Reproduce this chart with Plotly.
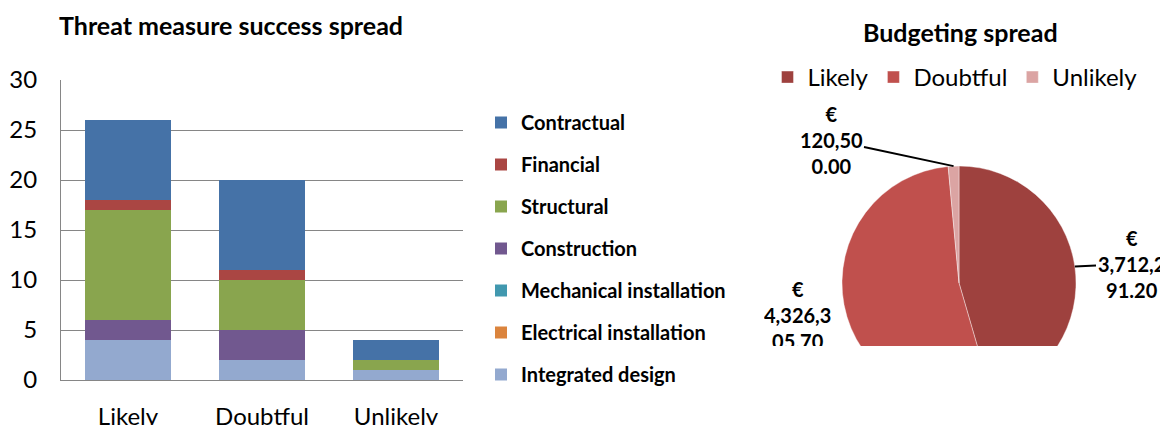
import plotly.graph_objects as go
import math

# ---------------- data ----------------
categories = ["Likely", "Doubtful", "Unlikely"]
integrated_design = [4, 2, 1]
electrical_installation = [0, 0, 0]
mechanical_installation = [0, 0, 0]
construction = [2, 3, 0]
structural = [11, 5, 1]
financial = [1, 1, 0]
contractual = [8, 9, 2]

series_names = ["Integrated design", "Electrical installation", "Mechanical installation",
                "Construction", "Structural", "Financial", "Contractual"]
series_values = [integrated_design, electrical_installation, mechanical_installation,
                 construction, structural, financial, contractual]
series_colors = ["#93A9CF", "#DB843D", "#4198AF", "#71588F", "#89A54E", "#AA4643", "#4572A7"]

budget_labels = ["Likely", "Doubtful", "Unlikely"]
budget_values = [3712291.20, 4326305.70, 120500.00]
budget_colors = ["#9E413E", "#C0504D", "#DBA4A3"]

# page body has an 8px default margin; size the figure to fit the window
OFF = 8
W, H = 1168 - OFF, 425 - OFF
FONT = "Lato"


def px_x(x):
    return (x - OFF) / W


def px_y(y):
    return 1 - (y - OFF) / H


def wrap_money(v, limit=6.0):
    s = f"{v:,.2f}"
    lines, cur, w = [], "", 0.0
    for ch in s:
        cw = 0.5 if ch in ",." else 1.0
        if w + cw > limit:
            lines.append(cur)
            cur, w = "", 0.0
        cur += ch
        w += cw
    lines.append(cur)
    return "€<br>" + "<br>".join(lines)


fig = go.Figure()

n = len(series_names)
for i, (name, vals, col) in enumerate(zip(series_names, series_values, series_colors)):
    fig.add_trace(go.Bar(
        x=categories, y=vals, name=name, marker_color=col,
        marker_line_width=0, legendgroup=name, legend="legend",
        legendrank=n - i,
    ))

# pie geometry (screen pixels)
pie_cx, pie_cy, pie_r = 959, 283, 117
fig.add_trace(go.Pie(
    labels=budget_labels, values=budget_values, sort=False, direction="clockwise",
    rotation=0, marker=dict(colors=budget_colors, line=dict(color="white", width=0.4)),
    textinfo="none", legend="legend2",
    domain=dict(x=[px_x(pie_cx - pie_r), px_x(pie_cx + pie_r)],
                y=[px_y(pie_cy + pie_r), px_y(pie_cy - pie_r)]),
))

# clip pie bottom
fig.add_shape(type="rect", xref="paper", yref="paper", x0=px_x(760), x1=1.0,
              y0=-0.01, y1=px_y(346), fillcolor="white", line_width=0, layer="above")

annotations = [
    dict(text="<b>Threat measure success spread</b>", x=px_x(57), y=px_y(25),
         xref="paper", yref="paper",
         xanchor="left", yanchor="middle", showarrow=False,
         font=dict(family=FONT, size=25, color="black")),
    dict(text="<b>Budgeting spread</b>", x=px_x(960), y=px_y(32),
         xref="paper", yref="paper",
         xanchor="center", yanchor="middle", showarrow=False,
         font=dict(family=FONT, size=25, color="black")),
]

# pie data labels
total = sum(budget_values)
cum = 0.0
mids = []
for v in budget_values:
    mids.append((cum + v / 2) / total * 2 * math.pi)
    cum += v

label_centers = {"Likely": (1131, 264), "Unlikely": (831, 140)}
for lab, v, m in zip(budget_labels, budget_values, mids):
    tx = pie_cx + pie_r * math.sin(m)
    ty = pie_cy - pie_r * math.cos(m)
    txt = "<b>" + wrap_money(v) + "</b>"
    if lab in label_centers:
        cx, cy = label_centers[lab]
        annotations.append(dict(
            text=txt, x=px_x(tx), y=px_y(ty), xref="paper", yref="paper",
            showarrow=True, arrowhead=0, arrowwidth=2, arrowcolor="black",
            ax=cx - tx, ay=cy - ty, align="center",
            font=dict(family=FONT, size=20, color="black"),
        ))
    else:
        annotations.append(dict(
            text=txt, x=px_x(797), y=px_y(275), xref="paper", yref="paper",
            xanchor="center", yanchor="top", showarrow=False, align="center",
            height=69, valign="top",
            font=dict(family=FONT, size=20, color="black"),
        ))

fig.update_layout(
    width=W, height=H,
    margin=dict(l=0, r=0, t=0, b=0, autoexpand=False),
    paper_bgcolor="white", plot_bgcolor="white",
    barmode="stack", bargap=0.36,
    font=dict(family=FONT, color="black"),
    xaxis=dict(domain=[px_x(61), px_x(463)], showline=True, linecolor="#868686",
               linewidth=1, ticks="", tickfont=dict(size=24, color="black"),
               ticklabelstandoff=15, fixedrange=True, automargin=False),
    yaxis=dict(domain=[px_y(380), px_y(80)], range=[0, 30], dtick=5,
               showgrid=True, gridcolor="#868686", gridwidth=1,
               showline=True, linecolor="#868686", linewidth=1, zeroline=False,
               ticks="", tickfont=dict(size=24, color="black"),
               ticklabelstandoff=18, fixedrange=True, automargin=False),
    legend=dict(orientation="v", x=px_x(481), y=px_y(103), xanchor="left", yanchor="top",
                traceorder="grouped", tracegroupgap=13,
                font=dict(family=FONT, size=20, color="black", weight="bold"),
                bgcolor="rgba(0,0,0,0)"),
    legend2=dict(orientation="h", x=px_x(955), y=px_y(55), xanchor="center", yanchor="top",
                 font=dict(family=FONT, size=24, color="black"),
                 bgcolor="rgba(0,0,0,0)"),
    annotations=annotations,
    showlegend=True,
)

fig.write_html("out.html")
